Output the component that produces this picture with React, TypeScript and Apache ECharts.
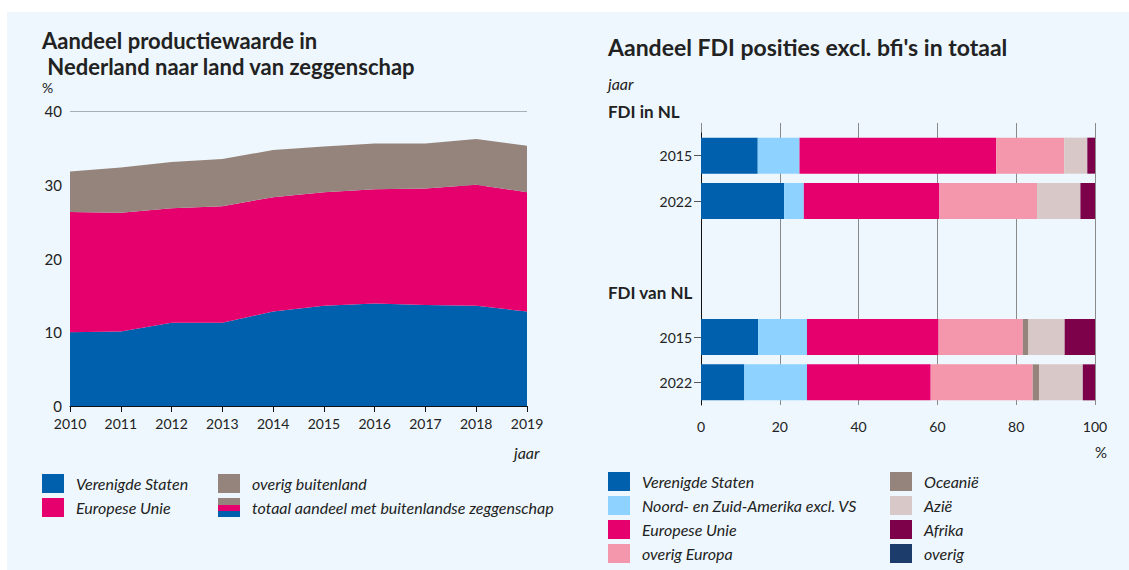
import React, { useEffect, useRef } from "react";
import * as echarts from "echarts";

// ---------- left chart data ----------
const years = ["2010", "2011", "2012", "2013", "2014", "2015", "2016", "2017", "2018", "2019"];
const usShare = [10.0, 10.1, 11.3, 11.3, 12.8, 13.6, 13.9, 13.7, 13.6, 12.8];
const euShare = [16.3, 16.1, 15.5, 15.8, 15.5, 15.4, 15.5, 15.8, 16.4, 16.2];
const otherShare = [5.5, 6.15, 6.3, 6.4, 6.4, 6.2, 6.2, 6.1, 6.2, 6.3];
const leftSeriesNames = ["Verenigde Staten", "Europese Unie", "overig buitenland"];
const leftColors = ["#0060ae", "#e5006d", "#95847b"];

// ---------- right chart data ----------
const fdiRows = ["in-2015", "in-2022", "gap-1", "gap-2", "van-2015", "van-2022"];
const fdiRowLabels = ["2015", "2022", "", "", "2015", "2022"];
const fdiRegions = [
  "Verenigde Staten",
  "Noord- en Zuid-Amerika excl. VS",
  "Europese Unie",
  "overig Europa",
  "Oceanië",
  "Azië",
  "Afrika",
  "overig",
];
const fdiColors = ["#0060ae", "#8ed3ff", "#e5006d", "#f497ad", "#95847b", "#d8c8c7", "#7d004b", "#1c3d6b"];
const fdiVS = [14.4, 21.1, "-", "-", 14.5, 11.0];
const fdiAmerika = [10.6, 5.0, "-", "-", 12.4, 15.9];
const fdiEU = [49.9, 34.4, "-", "-", 33.4, 31.4];
const fdiOverigEuropa = [17.3, 24.8, "-", "-", 21.4, 25.9];
const fdiOceanie = [0, 0, "-", "-", 1.4, 1.6];
const fdiAzie = [5.85, 11.0, "-", "-", 9.2, 11.1];
const fdiAfrika = [1.95, 3.7, "-", "-", 7.7, 3.1];
const fdiOverig = [0, 0, "-", "-", 0, 0];
const fdiValues = [fdiVS, fdiAmerika, fdiEU, fdiOverigEuropa, fdiOceanie, fdiAzie, fdiAfrika, fdiOverig];

const FONT = "Lato";
const TXT = "#222222";

export default function App() {
  const ref = useRef<HTMLDivElement>(null);

  useEffect(() => {
    if (!ref.current) return;
    const chart = echarts.init(ref.current, null, { renderer: "svg" });

    const leftSeries = [usShare, euShare, otherShare].map((d, i) => ({
      name: leftSeriesNames[i],
      type: "line",
      stack: "left",
      xAxisIndex: 0,
      yAxisIndex: 0,
      data: d,
      symbol: "none",
      lineStyle: { width: 0 },
      areaStyle: { color: leftColors[i], opacity: 1 },
      itemStyle: { color: leftColors[i] },
      z: 3,
    }));

    const rightSeries = fdiValues.map((d, i) => ({
      name: fdiRegions[i],
      type: "bar",
      stack: "fdi",
      xAxisIndex: 1,
      yAxisIndex: 1,
      data: d,
      barWidth: 36,
      itemStyle: { color: fdiColors[i] },
      z: 3,
    }));

    // legends
    const legendItem = (x: number, y: number, name: string, color: string | null) => {
      const children: any[] = [];
      if (color) {
        children.push({ type: "rect", shape: { x: 0, y: 0, width: 22, height: 19 }, style: { fill: color } });
      } else {
        children.push({ type: "rect", shape: { x: 0, y: 0, width: 22, height: 7 }, style: { fill: leftColors[2] } });
        children.push({ type: "rect", shape: { x: 0, y: 7, width: 22, height: 6 }, style: { fill: leftColors[1] } });
        children.push({ type: "rect", shape: { x: 0, y: 13, width: 22, height: 6 }, style: { fill: leftColors[0] } });
      }
      children.push({
        type: "text",
        x: 34,
        y: 9,
        style: { text: name, fill: TXT, font: `italic 16px ${FONT}`, verticalAlign: "middle" },
      });
      return { type: "group", x, y, children };
    };

    const leftLegend = [
      legendItem(42, 474, leftSeriesNames[0], leftColors[0]),
      legendItem(42, 498, leftSeriesNames[1], leftColors[1]),
      legendItem(218, 474, leftSeriesNames[2], leftColors[2]),
      legendItem(218, 498, "totaal aandeel met buitenlandse zeggenschap", null),
    ];
    const rightLegend = fdiRegions.map((n, i) =>
      legendItem(i < 4 ? 608 : 890, 472 + (i % 4) * 24, n, fdiColors[i])
    );

    const txt = (x: number, y: number, text: string, font: string, extra: any = {}) => ({
      type: "text",
      x,
      y,
      style: { text, fill: TXT, font, verticalAlign: "middle", align: "left", ...extra },
    });

    chart.setOption({
      animation: false,
      backgroundColor: "transparent",
      textStyle: { fontFamily: FONT, color: TXT },
      grid: [
        { left: 70, right: 602, top: 111, bottom: 164 },
        { left: 701, right: 34, top: 133, bottom: 165 },
        { left: 701, right: 34, top: 123, height: 10 },
      ],
      xAxis: [
        {
          type: "category",
          gridIndex: 0,
          data: years,
          boundaryGap: false,
          axisLine: { lineStyle: { color: "#111", width: 1 } },
          axisTick: { show: true, length: 6, lineStyle: { color: "#111" } },
          axisLabel: { color: TXT, fontSize: 14, fontFamily: FONT, margin: 10 },
        },
        {
          type: "value",
          gridIndex: 1,
          min: 0,
          max: 100,
          interval: 20,
          axisLine: { show: false },
          axisTick: { show: false },
          axisLabel: { color: TXT, fontSize: 14, fontFamily: FONT, margin: 14 },
          splitLine: { show: true, lineStyle: { color: "#8a8a8a", width: 1 } },
        },
        {
          type: "value",
          gridIndex: 2,
          min: 0,
          max: 100,
          interval: 20,
          axisLine: { show: false },
          axisTick: { show: false },
          axisLabel: { show: false },
          splitLine: { show: true, lineStyle: { color: "#8a8a8a", width: 1 } },
        },
      ],
      yAxis: [
        {
          type: "value",
          gridIndex: 0,
          min: 0,
          max: 40,
          interval: 10,
          axisLine: { show: false },
          axisTick: { show: false },
          axisLabel: { color: TXT, fontSize: 15, fontFamily: FONT, margin: 8 },
          splitLine: { show: true, lineStyle: { color: "#a9b0b5", width: 1 } },
        },
        {
          type: "category",
          gridIndex: 1,
          inverse: true,
          data: fdiRows,
          axisLine: { lineStyle: { color: "#111", width: 1 } },
          axisTick: {
            show: true,
            alignWithLabel: true,
            length: 7,
            interval: (i: number) => fdiRowLabels[i] !== "",
            lineStyle: { color: "#555" },
          },
          axisLabel: {
            color: TXT,
            fontSize: 14,
            fontFamily: FONT,
            margin: 9,
            interval: 0,
            formatter: (_v: string, i: number) => fdiRowLabels[i],
          },
        },
        {
          type: "category",
          gridIndex: 2,
          data: ["top"],
          axisLine: { show: false },
          axisTick: { show: false },
          axisLabel: { show: false },
        },
      ],
      series: [...leftSeries, ...rightSeries],
      graphic: [
        txt(42, 53, "Aandeel productiewaarde in\n Nederland naar land van zeggenschap", `bold 22px ${FONT}`, {
          lineHeight: 26,
        }),
        txt(42, 87, "%", `14px ${FONT}`),
        txt(514, 452, "jaar", `italic 16px ${FONT}`),
        txt(608, 47, "Aandeel FDI posities excl. bfi's in totaal", `bold 23px ${FONT}`),
        txt(608, 83, "jaar", `italic 16px ${FONT}`),
        txt(608, 111, "FDI in NL", `bold 17px ${FONT}`),
        txt(608, 292, "FDI van NL", `bold 17px ${FONT}`),
        txt(1095, 452, "%", `15px ${FONT}`),
        ...leftLegend,
        ...rightLegend,
      ],
    });

    return () => chart.dispose();
  }, []);

  return (
    <div style={{ position: "absolute", left: 0, top: 0, width: 1129, height: 570, background: "#ffffff" }}>
      <div
        style={{ position: "absolute", left: 7, top: 12, width: 1122, height: 558, background: "#edf7fd" }}
      />
      <div ref={ref} style={{ position: "absolute", left: 0, top: 0, width: 1129, height: 570 }} />
    </div>
  );
}
